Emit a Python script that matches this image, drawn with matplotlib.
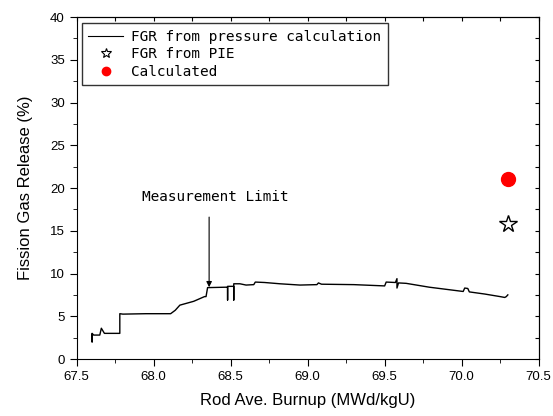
import matplotlib.pyplot as plt
from matplotlib.lines import Line2D
from matplotlib.ticker import MultipleLocator

# FGR derived from rod pressure vs rod average burnup
burnup = [67.60, 67.60, 67.60, 67.61, 67.65, 67.66, 67.67, 67.68, 67.78, 67.78,
          67.80, 67.95, 68.11, 68.14, 68.17, 68.26, 68.33, 68.34, 68.35, 68.47,
          68.48, 68.48, 68.48, 68.52, 68.52, 68.52, 68.56, 68.60, 68.65, 68.66,
          68.72, 68.82, 68.95, 69.06, 69.07, 69.09, 69.30, 69.50, 69.51, 69.57,
          69.58, 69.58, 69.59, 69.64, 69.79, 70.01, 70.02, 70.04, 70.05, 70.15,
          70.25, 70.28, 70.29, 70.30]
fgr = [2.9, 2.0, 3.0, 2.8, 2.8, 3.6, 3.3, 3.0, 3.0, 5.3,
       5.25, 5.3, 5.3, 5.7, 6.3, 6.75, 7.3, 7.3, 8.35, 8.4,
       8.4, 6.9, 8.5, 8.5, 6.9, 8.8, 8.8, 8.65, 8.7, 9.0,
       8.95, 8.8, 8.65, 8.7, 8.9, 8.75, 8.7, 8.55, 9.0, 8.95,
       9.4, 8.3, 8.9, 8.85, 8.4, 7.9, 8.3, 8.25, 7.85, 7.6,
       7.3, 7.2, 7.3, 7.5]

pie_burnup = [70.30]
pie_fgr = [15.75]
calc_burnup = [70.30]
calc_fgr = [21.05]

# "Measurement Limit" arrow
limit_x = 68.36
limit_tip = 8.4
limit_tail = 16.6
limit_text = (68.40, 18.9)

mono = 'DejaVu Sans Mono'

fig = plt.figure(figsize=(5.53, 4.16), dpi=100)
ax = fig.add_axes([0.1387, 0.137, 0.8353, 0.822])

ax.plot(burnup, fgr, color='black', lw=1.0)
ax.plot(pie_burnup, pie_fgr, ls='none', marker='*', ms=13, mfc='white', mec='black', mew=1.0)
ax.plot(calc_burnup, calc_fgr, ls='none', marker='o', ms=10, mfc='red', mec='red')

ax.text(limit_text[0], limit_text[1], 'Measurement Limit', ha='center', va='center',
        family=mono, fontsize=10.4)
ax.annotate('', xy=(limit_x, limit_tip), xytext=(limit_x, limit_tail),
            arrowprops=dict(arrowstyle='-|>', color='black', lw=0.8,
                            mutation_scale=8, shrinkA=0, shrinkB=0))

ax.set_xlim(67.5, 70.5)
ax.set_ylim(0, 40)
ax.xaxis.set_major_locator(MultipleLocator(0.5))
ax.xaxis.set_minor_locator(MultipleLocator(0.25))
ax.yaxis.set_major_locator(MultipleLocator(5))
ax.yaxis.set_minor_locator(MultipleLocator(2.5))
ax.xaxis.set_major_formatter(plt.FormatStrFormatter('%.1f'))

ax.tick_params(which='both', direction='out', top=False, right=False,
               labelsize=9.5, labelfontfamily='Liberation Sans')
ax.tick_params(which='major', length=5)
ax.tick_params(which='minor', length=3)
# inward ticks on top and right
sec_x = ax.secondary_xaxis('top')
sec_x.xaxis.set_major_locator(MultipleLocator(0.25))
sec_x.tick_params(direction='in', length=3, labeltop=False)
sec_y = ax.secondary_yaxis('right')
sec_y.yaxis.set_major_locator(MultipleLocator(2.5))
sec_y.tick_params(direction='in', length=3, labelright=False)

ax.set_xlabel('Rod Ave. Burnup (MWd/kgU)', family='Liberation Sans', fontsize=12, labelpad=7)
ax.set_ylabel('Fission Gas Release (%)', family='Liberation Sans', fontsize=12, labelpad=12)

handles = [Line2D([], [], color='black', lw=0.8),
           Line2D([], [], ls='none', marker='*', ms=7, mfc='white', mec='black', mew=0.8),
           Line2D([], [], ls='none', marker='o', ms=6, mfc='red', mec='red')]
labels = ['FGR from pressure calculation', 'FGR from PIE', 'Calculated']
leg = ax.legend(handles, labels, loc='upper left', bbox_to_anchor=(0.011, 0.982),
                borderaxespad=0, fancybox=False, edgecolor='#333333', framealpha=1,
                prop={'family': mono, 'size': 10.4},
                handlelength=2.4, handletextpad=0.55, labelspacing=0.25,
                borderpad=0.45)
leg.get_frame().set_linewidth(1.0)

fig.savefig('out.png', dpi=100)
